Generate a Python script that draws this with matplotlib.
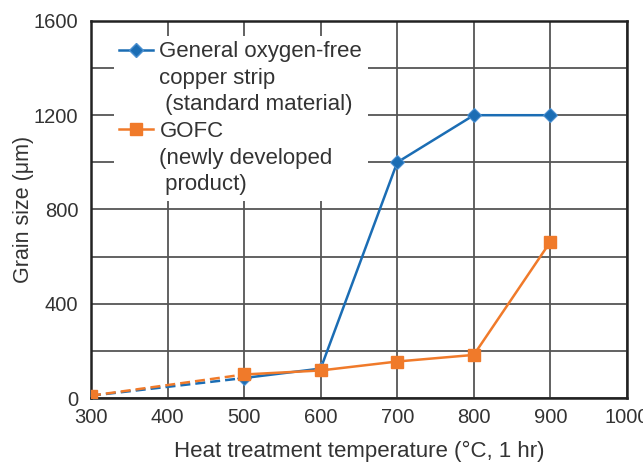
import matplotlib.pyplot as plt
from matplotlib.lines import Line2D
from matplotlib.ticker import MultipleLocator

plt.rcParams['font.family'] = ['Liberation Sans', 'DejaVu Sans']

temperature = [300, 500, 600, 700, 800, 900]
standard_grain = [10, 85, 125, 1000, 1200, 1200]
gofc_grain = [10, 100, 117, 155, 183, 663]

blue = '#1b6db4'
orange = '#f07a2a'
text_col = '#333333'
grid_col = '#555555'

fig = plt.figure(figsize=(6.43, 4.65), dpi=100)
ax = fig.add_axes([0.1415, 0.144, 0.8335, 0.811])

# dashed part 300-500, solid afterwards
ax.plot(temperature[:2], standard_grain[:2], color=blue, lw=1.8, ls=(0, (4, 2)), zorder=3)
ax.plot(temperature[1:], standard_grain[1:], color=blue, lw=1.8, zorder=3)
ax.plot(temperature[1:], standard_grain[1:], ls='none', marker='D', ms=7,
        mfc=blue, mec='#4a8fd0', mew=0.8, zorder=4)

ax.plot(temperature[:2], gofc_grain[:2], color=orange, lw=1.8, ls=(0, (4, 2)), zorder=5)
ax.plot(temperature[1:], gofc_grain[1:], color=orange, lw=1.8, zorder=5)
ax.plot(temperature, gofc_grain, ls='none', marker='s', ms=9,
        mfc=orange, mec=orange, zorder=6)

ax.set_xlim(300, 1000)
ax.set_ylim(0, 1600)
ax.xaxis.set_major_locator(MultipleLocator(100))
ax.yaxis.set_major_locator(MultipleLocator(400))
ax.yaxis.set_minor_locator(MultipleLocator(200))
ax.grid(True, which='both', color=grid_col, lw=1.3, zorder=1)
ax.set_axisbelow(True)
ax.tick_params(which='both', length=0, labelsize=14.5, colors=text_col)
ax.tick_params(axis='y', pad=9)
ax.tick_params(axis='x', pad=7)
for s in ax.spines.values():
    s.set_color('#222222')
    s.set_linewidth(1.8)

ax.set_xlabel('Heat treatment temperature (°C, 1 hr)', fontsize=16, color=text_col, labelpad=10)
ax.set_ylabel('Grain size (μm)', fontsize=15.5, color=text_col, labelpad=0)

blank = Line2D([], [], ls='none')
handles = [
    Line2D([], [], color=blue, lw=1.8, marker='D', ms=7, mfc=blue, mec='#4a8fd0'),
    blank, blank,
    Line2D([], [], color=orange, lw=1.8, marker='s', ms=9, mfc=orange, mec=orange),
    blank, blank,
]
labels = ['General oxygen-free', 'copper strip', ' (standard material)',
          'GOFC', '(newly developed', ' product)']
leg = ax.legend(handles, labels, loc='upper left', bbox_to_anchor=(0.022, 0.99),
                fontsize=16, frameon=True, fancybox=False, framealpha=1,
                facecolor='white', edgecolor='none', handlelength=1.5,
                handletextpad=0.3, labelspacing=0.25, borderpad=0.25, labelcolor=text_col)
leg.set_zorder(10)

fig.savefig('out.png', dpi=100)
